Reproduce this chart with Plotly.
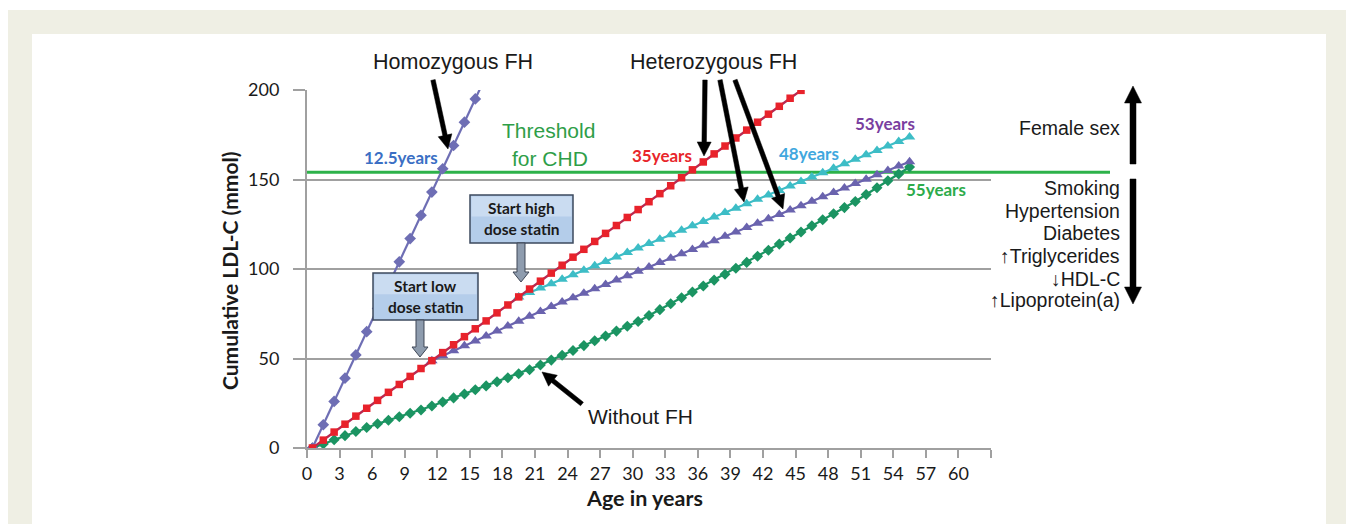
import plotly.graph_objects as go
import math

# ---------------- data ----------------
homo_ages = list(range(0, 17))
homo_ldl = [0, 13, 26, 39, 52, 65, 78, 91, 104, 117, 130, 143, 156, 169, 182, 195, 208]

hetero_ages = list(range(0, 46))
hetero_ldl = [0, 4.4, 8.9, 13.3, 17.8, 22.2, 26.6, 31.1, 35.5, 40.0, 44.4, 48.8, 53.3, 57.7,
              62.2, 66.6, 71.0, 75.5, 79.9, 84.4, 88.8, 93.2, 97.7, 102.1, 106.6, 111.0,
              115.4, 119.9, 124.3, 128.8, 133.2, 137.6, 142.1, 146.5, 151.0, 155.4, 159.8,
              164.3, 168.7, 173.2, 177.6, 182.0, 186.5, 190.9, 195.4, 199.8]

low_ages = list(range(11, 56))
low_ldl = [48.8, 51.6, 54.3, 57.1, 59.8, 62.6, 65.3, 68.1, 70.8, 73.6, 76.3, 79.1, 81.5,
           84.0, 86.4, 88.9, 91.3, 93.8, 96.2, 98.7, 101.1, 103.6, 106.0, 108.5, 110.9,
           113.4, 115.8, 118.3, 120.7, 123.2, 125.6, 128.1, 130.5, 133.0, 135.4, 137.9,
           140.3, 142.8, 145.2, 147.7, 150.1, 152.6, 155.0, 157.5, 159.9]

high_ages = list(range(19, 56))
high_ldl = [84.4, 86.9, 89.4, 91.8, 94.3, 96.8, 99.3, 101.8, 104.2, 106.7, 109.2, 111.7,
            114.2, 116.6, 119.1, 121.6, 124.1, 126.6, 129.0, 131.5, 134.0, 136.5, 139.0,
            141.4, 143.9, 146.4, 148.9, 151.4, 153.8, 156.3, 158.8, 161.3, 163.8, 166.2,
            168.7, 171.2, 173.7]

nofh_ages = list(range(0, 56))
nofh_ldl = [0, 2.3, 4.6, 6.9, 9.2, 11.4, 13.5, 15.5, 17.5, 19.4, 21.2, 23.5, 25.7, 28.0,
            30.2, 32.5, 34.7, 37.0, 39.2, 41.5, 43.7, 46.4, 49.1, 51.8, 54.5, 57.2, 59.9,
            62.6, 65.3, 68.0, 70.7, 74.0, 77.3, 80.6, 83.9, 87.2, 90.5, 93.8, 97.1, 100.4,
            103.7, 107.1, 110.5, 113.9, 117.3, 120.7, 124.1, 127.5, 130.9, 134.3, 137.7,
            141.6, 145.4, 149.3, 153.1, 157.0]

threshold = 154
x_ticks = list(range(0, 64, 3))
x_ticklabels = [str(v) if v <= 60 else "" for v in x_ticks]
y_ticks = [0, 50, 100, 150, 200]

risk_up = ["Female sex"]
risk_down = ["Smoking", "Hypertension", "Diabetes", "\u2191Triglycerides", "\u2193HDL-C",
             "\u2191Lipoprotein(a)"]

# ---------------- layout geometry (screen pixels) ----------------
OFF = 8                     # page body margin
W, H = 1354 - OFF, 524 - OFF
L, R, T, B = 307, 991, 90, 448


def px(x):
    return (x - L) / (R - L)


def py(y):
    return (B - y) / (B - T)


def centred(a):
    return [v + 0.5 for v in a]


fig = go.Figure()

GREEN = "#1B9462"
fig.add_trace(go.Scatter(x=centred(nofh_ages), y=nofh_ldl, mode="lines+markers",
                         line=dict(color=GREEN, width=2.2),
                         marker=dict(symbol="diamond", size=8.5, color=GREEN)))
fig.add_trace(go.Scatter(x=centred(homo_ages), y=homo_ldl, mode="lines+markers",
                         line=dict(color="#6E6EB4", width=2.2),
                         marker=dict(symbol="diamond", size=9, color="#6E6EB4")))
fig.add_trace(go.Scatter(x=centred(low_ages), y=low_ldl, mode="lines+markers",
                         line=dict(color="#6A63AE", width=2.2),
                         marker=dict(symbol="triangle-up", size=10, color="#6A63AE")))
fig.add_trace(go.Scatter(x=centred(high_ages), y=high_ldl, mode="lines+markers",
                         line=dict(color="#3DBDC6", width=2.2),
                         marker=dict(symbol="triangle-up", size=10, color="#3DBDC6")))
fig.add_trace(go.Scatter(x=centred(hetero_ages), y=hetero_ldl, mode="lines+markers",
                         line=dict(color="#B82A52", width=2.4),
                         marker=dict(symbol="square", size=7.5, color="#E8222B")))

shapes = []
BEIGE = "#EFEFE4"
shapes.append(dict(type="rect", xref="paper", yref="paper", layer="below",
                   x0=px(8), x1=px(1348), y0=py(10), y1=py(540),
                   fillcolor=BEIGE, line=dict(width=0)))
shapes.append(dict(type="rect", xref="paper", yref="paper", layer="below",
                   x0=px(32), x1=px(1326), y0=py(34), y1=py(540),
                   fillcolor="white", line=dict(width=0)))
# threshold line
shapes.append(dict(type="line", xref="paper", yref="paper", layer="below",
                   x0=0, x1=px(1110), y0=threshold / 200, y1=threshold / 200,
                   line=dict(color="#2DB24A", width=3)))


def arrow_path(x0, y0, x1, y1, sw, hw, hl):
    dx, dy = x1 - x0, y1 - y0
    ln = math.hypot(dx, dy)
    ux, uy = dx / ln, dy / ln
    nx, ny = -uy, ux
    bx, by = x1 - ux * hl, y1 - uy * hl
    pts = [(x0 + nx * sw / 2, y0 + ny * sw / 2), (bx + nx * sw / 2, by + ny * sw / 2),
           (bx + nx * hw / 2, by + ny * hw / 2), (x1, y1),
           (bx - nx * hw / 2, by - ny * hw / 2), (bx - nx * sw / 2, by - ny * sw / 2),
           (x0 - nx * sw / 2, y0 - ny * sw / 2)]
    return "M " + " L ".join(f"{px(a):.5f},{py(b):.5f}" for a, b in pts) + " Z"


black_arrows = [
    (433, 80, 448, 149, 4.5, 14, 14),
    (705, 80, 704, 156, 4.5, 14, 14),
    (720, 80, 744, 202, 4.5, 14, 14),
    (735, 80, 783, 209, 4.5, 14, 14),
    (582, 404, 542, 372, 4.5, 14, 14),
    (1133, 164, 1133, 86, 6, 17, 17),
    (1133, 179, 1133, 304, 6, 17, 17),
]
for a in black_arrows:
    shapes.append(dict(type="path", xref="paper", yref="paper", path=arrow_path(*a),
                       fillcolor="black", line=dict(color="black", width=0.5)))

# statin boxes
boxes = [
    (470, 195, 573, 243, ["Start high", "dose statin"], (521, 243, 521, 282)),
    (373, 273, 478, 320, ["Start low", "dose statin"], (420, 320, 420, 357)),
]
annotations = []
for x0, y0, x1, y1, lines, arr in boxes:
    shapes.append(dict(type="rect", xref="paper", yref="paper",
                       x0=px(x0), x1=px(x1), y0=py(y1), y1=py(y0),
                       fillcolor="#B4CDEA", line=dict(color="#3D4A5E", width=1.5)))
    shapes.append(dict(type="rect", xref="paper", yref="paper",
                       x0=px(x0 + 1.5), x1=px(x1 - 1.5), y0=py(y0 + (y1 - y0) * 0.45),
                       y1=py(y0 + 1.5), fillcolor="#CADCF1", line=dict(width=0)))
    shapes.append(dict(type="path", xref="paper", yref="paper",
                       path=arrow_path(arr[0], arr[1], arr[2], arr[3], 8, 16, 10),
                       fillcolor="#8E9CAE", line=dict(color="#3F4756", width=1)))
    cx = (x0 + x1) / 2
    for k, t in enumerate(lines):
        annotations.append(dict(xref="paper", yref="paper", x=px(cx),
                                y=py(y0 + 13 + 21 * k), text=f"<b>{t}</b>",
                                showarrow=False, xanchor="center", yanchor="middle",
                                font=dict(family="Lato", size=15.5, color="#1a1a1a")))


def label(x, y, text, size, color="#1a1a1a", family="Liberation Sans, DejaVu Sans",
          anchor="center", bold=False, angle=0):
    annotations.append(dict(xref="paper", yref="paper", x=px(x), y=py(y),
                            text=f"<b>{text}</b>" if bold else text, showarrow=False,
                            xanchor=anchor, yanchor="middle", textangle=angle,
                            font=dict(family=family, size=size, color=color)))


label(453, 62, "Homozygous FH", 21.5)
label(713, 62, "Heterozygous FH", 21.5)
label(640, 416, "Without FH", 21)
label(548, 130, "Threshold", 21, color="#2E9E48")
label(550, 158, "for CHD", 21, color="#2E9E48")

label(401, 157, "12.5years", 17, color="#3B6FC4", family="Lato", bold=True)
label(662, 155, "35years", 17, color="#E8262B", family="Lato", bold=True)
label(809, 153, "48years", 17, color="#41A7DE", family="Lato", bold=True)
label(885, 123, "53years", 17, color="#7A3FA0", family="Lato", bold=True)
label(936, 189, "55years", 17, color="#2DAB4B", family="Lato", bold=True)

label(1122, 128, risk_up[0], 19.5, anchor="right")
ys = [188, 211, 233, 256, 279, 300]
for t, yy in zip(risk_down, ys):
    label(1122, yy, t, 19.5, anchor="right")

label(229, 271, "Cumulative LDL-C (mmol)", 21, family="Lato", bold=True, angle=-90)
label(644, 498, "Age in years", 21.5, family="Lato", bold=True)

GRID = "#A0A0A0"
fig.update_layout(
    width=W, height=H,
    margin=dict(l=L - OFF, r=1354 - R, t=T - OFF, b=524 - B, pad=0),
    paper_bgcolor="white", plot_bgcolor="rgba(0,0,0,0)",
    showlegend=False,
    shapes=shapes, annotations=annotations,
    xaxis=dict(range=[0, 63], tickvals=x_ticks, ticktext=x_ticklabels, showgrid=False,
               zeroline=False, showline=True, linecolor=GRID, linewidth=2,
               ticks="outside", ticklen=8, tickwidth=2, tickcolor=GRID,
               tickfont=dict(family="Lato", size=18, color="#1a1a1a")),
    yaxis=dict(range=[0, 200], tickvals=y_ticks, showgrid=True, gridcolor=GRID,
               gridwidth=2, zeroline=False, showline=True, linecolor=GRID, linewidth=2,
               ticks="outside", ticklen=12, tickwidth=2, tickcolor=GRID,
               ticklabelstandoff=10,
               tickfont=dict(family="Lato", size=18, color="#1a1a1a")),
)

fig.write_html("out.html")
